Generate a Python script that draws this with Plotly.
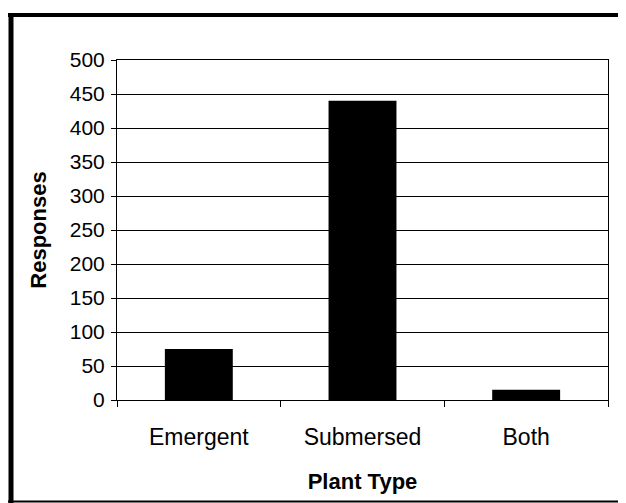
import plotly.graph_objects as go

categories = ["Emergent", "Submersed", "Both"]
responses = [75, 440, 15]
y_ticks = [0, 50, 100, 150, 200, 250, 300, 350, 400, 450, 500]

# page has an 8px body margin; figure is sized so the plot area lands where the reference has it
OFF = 8
W, H = 626 - OFF, 503 - OFF
L, R, T, B = 117 - OFF, 18, 60 - OFF, 103
pw, ph = W - L - R, H - T - B

def px_x(p):  # page x -> paper x
    return (p - 117) / pw

def px_y(p):  # page y -> paper y
    return (400 - p) / ph

fig = go.Figure(go.Bar(x=categories, y=responses, marker=dict(color="black", line=dict(width=0)),
                       width=0.415))

font = "Liberation Sans, Arial, sans-serif"

fig.update_layout(
    width=W, height=H,
    margin=dict(l=L, r=R, t=T, b=B, pad=0),
    paper_bgcolor="white", plot_bgcolor="white",
    showlegend=False,
    xaxis=dict(
        type="category",
        showgrid=False,
        showline=True, linecolor="black", linewidth=1, mirror=True,
        ticks="outside", tickson="boundaries", ticklen=6, tickcolor="black", tickwidth=1,
        tickfont=dict(family=font, size=23, color="black"),
        ticklabelstandoff=16,
        title=dict(text="<b>Plant Type</b>", font=dict(family=font, size=22, color="black"), standoff=25),
    ),
    yaxis=dict(
        range=[0, 500], tickvals=y_ticks, ticktext=[str(v) for v in y_ticks],
        showgrid=True, gridcolor="black", gridwidth=1,
        showline=True, linecolor="black", linewidth=1, mirror=True,
        ticks="outside", ticklen=5, tickcolor="black", tickwidth=1,
        tickfont=dict(family=font, size=21, color="black"),
        ticklabelstandoff=2,
        zeroline=False,
        title=dict(text="<b>Responses</b>", font=dict(family=font, size=22, color="black"), standoff=17),
    ),
    shapes=[
        dict(type="line", xref="paper", yref="paper", x0=px_x(8), x1=px_x(640), y0=px_y(15), y1=px_y(15),
             line=dict(color="black", width=4)),
        dict(type="line", xref="paper", yref="paper", x0=px_x(11), x1=px_x(11), y0=px_y(13), y1=px_y(510),
             line=dict(color="black", width=5)),
        dict(type="line", xref="paper", yref="paper", x0=px_x(8), x1=px_x(640), y0=px_y(501.5), y1=px_y(501.5),
             line=dict(color="black", width=2)),
    ],
)

fig.write_html("out.html")
